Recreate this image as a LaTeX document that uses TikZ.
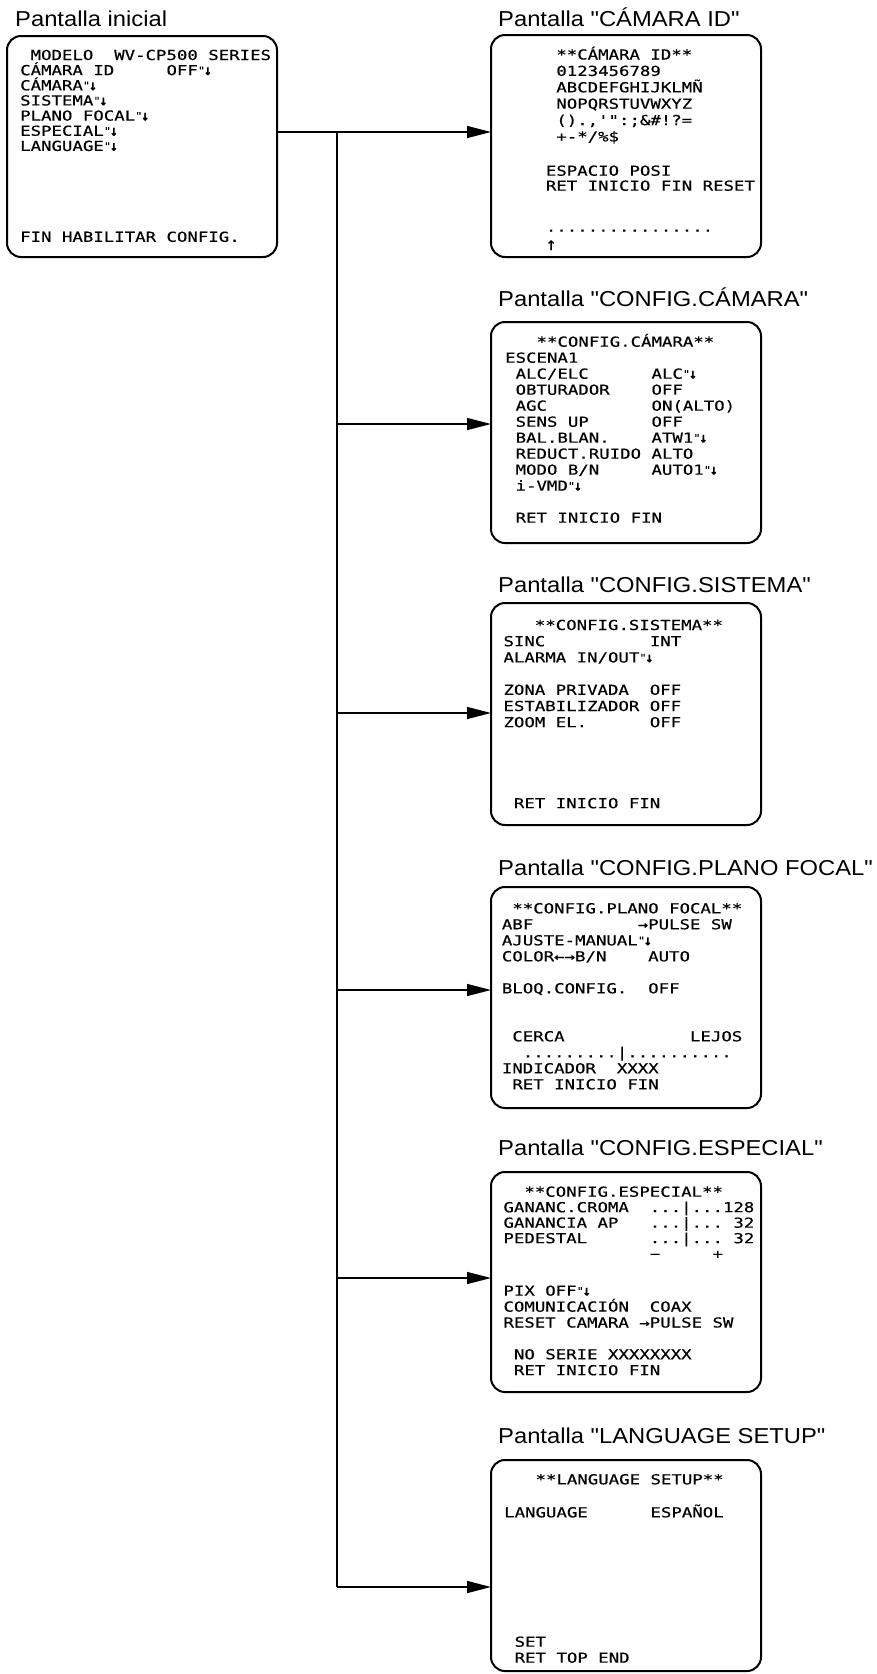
\documentclass[tikz,border=0pt]{standalone}
\usepackage{fontspec}
\usepackage{graphicx}
\usetikzlibrary{arrows.meta}
\setmainfont{Liberation Sans}
\newfontfamily\osdfont[FakeStretch=1.258,FakeBold=0.4,Ligatures=TeXOff]{DejaVu Sans Mono}
\newfontfamily\ttlfont[FakeStretch=1.1,Ligatures=TeXOff]{Liberation Sans}
\newcommand\osd[2]{\vtop{\baselineskip=#1pt\lineskiplimit=-100pt\lineskip=0pt\halign{##\hfil\cr#2\crcr}}}
\newcommand\sm{\makebox[9pt][l]{\raisebox{1.5pt}{\scalebox{0.7}[0.7]{"}}\kern-1.2pt\scalebox{0.75}[1.05]{\bfseries ↓}}}
\begin{document}
\begin{tikzpicture}[x=1pt,y=-1pt,
  scr/.style={draw, line width=2pt, rounded corners=14pt, inner sep=0pt, outer sep=0pt,
              minimum width=270pt, anchor=north west},
  txt/.style={inner sep=0pt, anchor=base west, font=\osdfont\fontsize{13.8}{16}\selectfont},
  ttl/.style={inner sep=0pt, anchor=base west, font=\ttlfont\fontsize{21.6}{24}\selectfont},
  wire/.style={line width=1.4pt},
  conn/.style={wire, -{Triangle[length=24pt,width=12pt]}}]
\useasboundingbox (0,0) rectangle (877,1674);

% titles
\node[ttl] (h0) at (15,26) {Pantalla inicial};
\node[ttl] (h1) at (498,26) {Pantalla "CÁMARA ID"};
\node[ttl] (h2) at (498,306) {Pantalla "CONFIG.CÁMARA"};
\node[ttl] (h3) at (498,592) {Pantalla "CONFIG.SISTEMA"};
\node[ttl] (h4) at (498,875) {Pantalla "CONFIG.PLANO FOCAL"};
\node[ttl] (h5) at (498,1155) {Pantalla "CONFIG.ESPECIAL"};
\node[ttl] (h6) at (498,1443) {Pantalla "LANGUAGE SETUP"};

% screens
\node[scr, minimum height=221pt] (init) at (7,36) {};
\node[scr, minimum height=222pt] (b1) at (491,35) {};
\node[scr, minimum height=221pt] (b2) at (491,322) {};
\node[scr, minimum height=222pt] (b3) at (491,603) {};
\node[scr, minimum height=221pt] (b4) at (491,887) {};
\node[scr, minimum height=220pt] (b5) at (491,1172) {};
\node[scr, minimum height=211pt] (b6) at (491,1460) {};

% initial screen text
\node[txt] (t0) at (20,60) {\osd{15.15}{%
~MODELO~~WV-CP500~SERIES\cr
CÁMARA~ID~~~~~OFF\sm\cr
CÁMARA\sm\cr
SISTEMA\sm\cr
PLANO~FOCAL\sm\cr
ESPECIAL\sm\cr
LANGUAGE\sm\cr
{}\cr{}\cr{}\cr{}\cr{}\cr
FIN~HABILITAR~CONFIG.}};

% CAMARA ID
\node[txt] (t1a) at (545.7,59.5) {\osd{16.4}{%
~**CÁMARA~ID**\cr
~0123456789\cr
~ABCDEFGHIJKLMÑ\cr
~NOPQRSTUVWXYZ\cr
~().,'":;\&\#!?=\cr
~+-*/\%\$}};
\node[txt] (t1b) at (545.7,175.7) {\osd{15}{%
ESPACIO~POSI\cr
RET~INICIO~FIN~RESET}};
\node[txt] (t1c) at (545.7,231.7) {................};
\node[txt] (t1d) at (545.7,250) {\scalebox{1}[1.3]{↑}};

% CONFIG.CAMARA
\node[txt] (t2) at (505,346.7) {\osd{16}{%
~~~**CONFIG.CÁMARA**\cr
ESCENA1\cr
~ALC/ELC~~~~~~ALC\sm\cr
~OBTURADOR~~~~OFF\cr
~AGC~~~~~~~~~~ON(ALTO)\cr
~SENS~UP~~~~~~OFF\cr
~BAL.BLAN.~~~~ATW1\sm\cr
~REDUCT.RUIDO~ALTO\cr
~MODO~B/N~~~~~AUTO1\sm\cr
~i-VMD\sm\cr
{}\cr
~RET~INICIO~FIN}};

% CONFIG.SISTEMA
\node[txt] (t3) at (503.3,630) {\osd{16.2}{%
~~~**CONFIG.SISTEMA**\cr
SINC~~~~~~~~~~INT\cr
ALARMA~IN/OUT\sm\cr
{}\cr
ZONA~PRIVADA~~OFF\cr
ESTABILIZADOR~OFF\cr
ZOOM~EL.~~~~~~OFF\cr
{}\cr{}\cr{}\cr{}\cr
~RET~INICIO~FIN}};

% CONFIG.PLANO FOCAL
\node[txt] (t4) at (501.7,913.3) {\osd{16}{%
~**CONFIG.PLANO~FOCAL**\cr
ABF~~~~~~~~~~→PULSE~SW\cr
AJUSTE-MANUAL\sm\cr
COLOR←→B/N~~~~AUTO\cr
{}\cr
BLOQ.CONFIG.~~OFF\cr
{}\cr{}\cr
~CERCA~~~~~~~~~~~~LEJOS\cr
~~.........|..........\cr
INDICADOR~~XXXX\cr
~RET~INICIO~FIN}};

% CONFIG.ESPECIAL
\node[txt] (t5a) at (503.3,1196.7) {\osd{15.5}{%
~~**CONFIG.ESPECIAL**\cr
GANANC.CROMA~~...|...128\cr
GANANCIA~AP~~~...|...~32\cr
PEDESTAL~~~~~~...|...~32\cr
~~~~~~~~~~~~~~−~~~~~+}};
\node[txt] (t5b) at (503.3,1295.7) {\osd{15.9}{%
PIX~OFF\sm\cr
COMUNICACIÓN~~COAX\cr
RESET~CAMARA~→PULSE~SW\cr
{}\cr
~NO~SERIE~XXXXXXXX\cr
~RET~INICIO~FIN}};

% LANGUAGE SETUP
\node[txt] (t6a) at (504,1484.3) {\osd{16.5}{%
~~~**LANGUAGE~SETUP**\cr
{}\cr
LANGUAGE~~~~~~ESPAÑOL}};
\node[txt] (t6b) at (504,1646.7) {\osd{16}{%
~SET\cr
~RET~TOP~END}};

% connectors
\coordinate (j1) at (337,132);
\coordinate (j2) at (337,424);
\coordinate (j3) at (337,713);
\coordinate (j4) at (337,990);
\coordinate (j5) at (337,1278);
\coordinate (j6) at (337,1587);
\draw[conn] (init.east |- j1) -- (b1.west |- j1);
\draw[wire] (j1) -- (j6);
\draw[conn] (j2) -- (b2.west |- j2);
\draw[conn] (j3) -- (b3.west |- j3);
\draw[conn] (j4) -- (b4.west |- j4);
\draw[conn] (j5) -- (b5.west |- j5);
\draw[conn] (j6) -- (b6.west |- j6);
\end{tikzpicture}
\end{document}
